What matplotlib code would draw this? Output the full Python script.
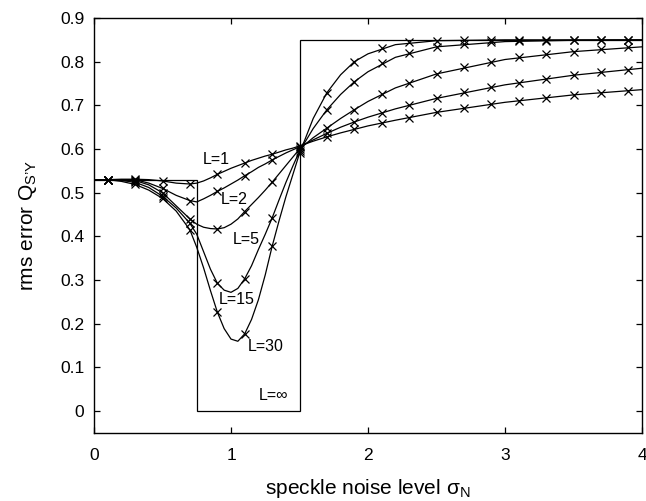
"""rms error Q_S'Y versus speckle noise level for several L."""
import matplotlib
matplotlib.use("Agg")
import matplotlib.pyplot as plt

# marker samples (sigma_N)
MARK_X = [0.1, 0.3, 0.5, 0.7, 0.9, 1.1, 1.3, 1.5, 1.7, 1.9,
          2.1, 2.3, 2.5, 2.7, 2.9, 3.1, 3.3, 3.5, 3.7, 3.9]
MARK_L1 = [0.530, 0.531, 0.527, 0.520, 0.542, 0.568, 0.588, 0.607, 0.628, 0.645,
           0.660, 0.672, 0.684, 0.694, 0.703, 0.711, 0.718, 0.724, 0.729, 0.734]
MARK_L2 = [0.530, 0.530, 0.510, 0.482, 0.503, 0.539, 0.575, 0.605, 0.636, 0.662,
           0.683, 0.701, 0.716, 0.730, 0.742, 0.752, 0.761, 0.769, 0.776, 0.782]
MARK_L5 = [0.530, 0.528, 0.500, 0.440, 0.417, 0.457, 0.524, 0.600, 0.648, 0.690,
           0.726, 0.752, 0.772, 0.787, 0.800, 0.810, 0.818, 0.823, 0.828, 0.833]
MARK_L15 = [0.530, 0.524, 0.492, 0.430, 0.293, 0.303, 0.442, 0.595, 0.690, 0.754,
            0.796, 0.821, 0.834, 0.841, 0.845, 0.847, 0.848, 0.849, 0.849, 0.849]
MARK_L30 = [0.530, 0.519, 0.487, 0.415, 0.227, 0.177, 0.377, 0.590, 0.729, 0.800,
            0.831, 0.844, 0.848, 0.849, 0.850, 0.850, 0.850, 0.850, 0.850, 0.850]

# smooth curves, read on a finer grid (denser around the dip)
CURVE_X = [0.0, 0.1, 0.2, 0.3, 0.4, 0.5, 0.6, 0.7, 0.75, 0.8, 0.85, 0.9, 0.95,
           1.0, 1.05, 1.1, 1.15, 1.2, 1.25, 1.3, 1.35, 1.4, 1.45, 1.5,
           1.6, 1.7, 1.8, 1.9, 2.0, 2.2, 2.5, 3.0, 3.5, 4.0]
CURVE_L1 = [0.530, 0.530, 0.531, 0.531, 0.530, 0.527, 0.522, 0.520, 0.522, 0.527, 0.534,
            0.542, 0.549, 0.556, 0.562, 0.568, 0.574, 0.579, 0.584, 0.588, 0.593,
            0.598, 0.602, 0.607, 0.618, 0.628, 0.637, 0.645, 0.653, 0.666, 0.684,
            0.707, 0.724, 0.736]
CURVE_L2 = [0.530, 0.530, 0.530, 0.530, 0.522, 0.510, 0.494, 0.482, 0.479, 0.486, 0.494,
            0.503, 0.511, 0.520, 0.529, 0.539, 0.548, 0.558, 0.566, 0.575, 0.583,
            0.591, 0.598, 0.605, 0.621, 0.636, 0.650, 0.662, 0.673, 0.692, 0.716,
            0.747, 0.769, 0.785]
CURVE_L5 = [0.530, 0.530, 0.529, 0.528, 0.518, 0.500, 0.470, 0.440, 0.428, 0.421, 0.418,
            0.417, 0.420, 0.428, 0.440, 0.457, 0.473, 0.489, 0.506, 0.524, 0.543,
            0.562, 0.581, 0.600, 0.626, 0.648, 0.670, 0.690, 0.709, 0.740, 0.772,
            0.805, 0.823, 0.834]
CURVE_L15 = [0.530, 0.530, 0.528, 0.524, 0.512, 0.492, 0.465, 0.430, 0.405, 0.365, 0.325,
             0.293, 0.277, 0.272, 0.281, 0.303, 0.333, 0.370, 0.405, 0.442, 0.483,
             0.523, 0.560, 0.595, 0.647, 0.690, 0.725, 0.754, 0.777, 0.810, 0.834,
             0.846, 0.849, 0.850]
CURVE_L30 = [0.530, 0.530, 0.526, 0.519, 0.506, 0.487, 0.458, 0.415, 0.375, 0.328, 0.276,
             0.227, 0.189, 0.165, 0.160, 0.177, 0.210, 0.255, 0.312, 0.377, 0.435,
             0.490, 0.540, 0.590, 0.670, 0.729, 0.770, 0.800, 0.818, 0.839, 0.848,
             0.850, 0.850, 0.850]

# L = infinity: step function
INF_EDGES = [0.0, 0.75, 1.5, 4.0]
INF_VALUES = [0.53, 0.0, 0.85]

CURVE_LABELS = ["L=1", "L=2", "L=5", "L=15", "L=30", "L=\u221e"]
LABEL_X = [0.89, 1.02, 1.11, 1.04, 1.25, 1.31]
LABEL_Y = [0.575, 0.484, 0.394, 0.255, 0.148, 0.036]

X_TICKS = [0, 1, 2, 3, 4]
Y_TICKS = [0.0, 0.1, 0.2, 0.3, 0.4, 0.5, 0.6, 0.7, 0.8, 0.9]

plt.rcParams.update({
    "font.family": ["Liberation Sans", "DejaVu Sans"],
    "mathtext.fontset": "custom",
    "mathtext.rm": "Liberation Sans",
    "mathtext.it": "Liberation Sans",
    "axes.linewidth": 1.0,
})

fig = plt.figure(figsize=(6.46, 5.01), dpi=100)
ax = fig.add_axes([94 / 646, 1 - 433 / 501, 548 / 646, 415 / 501])

curves = [CURVE_L1, CURVE_L2, CURVE_L5, CURVE_L15, CURVE_L30]
marks = [MARK_L1, MARK_L2, MARK_L5, MARK_L15, MARK_L30]
for cy, my in zip(curves, marks):
    ax.plot(CURVE_X, cy, "-", color="black", linewidth=0.9)
    ax.plot(MARK_X, my, "x", color="black", markersize=5.5, markeredgewidth=0.9)

ax.stairs(INF_VALUES, INF_EDGES, baseline=None, color="black", linewidth=0.9)

for txt, lx, ly in zip(CURVE_LABELS, LABEL_X, LABEL_Y):
    ax.text(lx, ly, txt, ha="center", va="center", fontsize=11.5)

ax.set_xlim(0, 4)
ax.set_ylim(-0.05, 0.9)
ax.set_xticks(X_TICKS)
ax.set_yticks(Y_TICKS)
ax.set_xticklabels([str(t) for t in X_TICKS])
ax.set_yticklabels(["0"] + [f"{t:.1f}" for t in Y_TICKS[1:]])
ax.tick_params(direction="in", top=True, right=True, length=4, width=0.9,
               labelsize=12.5)
ax.tick_params(axis="x", pad=11)
ax.tick_params(axis="y", pad=7)

ax.set_xlabel("speckle noise level \u03c3$_\\mathrm{N}$", fontsize=15, labelpad=10)
ax.set_ylabel("rms error Q$_\\mathrm{S\u2019Y}$", fontsize=15, labelpad=15)

fig.savefig("out.png", dpi=100)
